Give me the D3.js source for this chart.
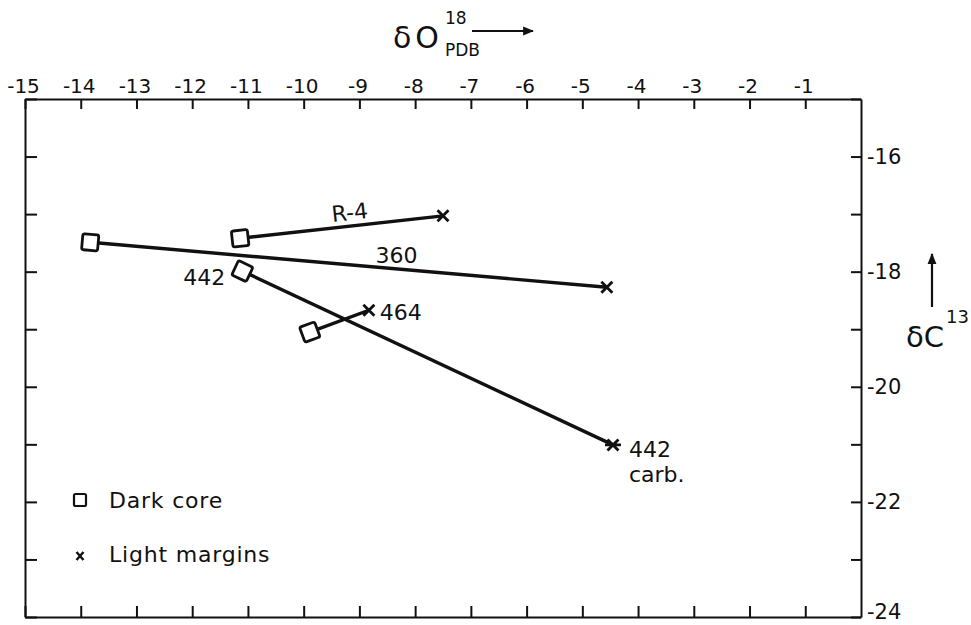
<!DOCTYPE html>
<meta charset="utf-8">
<script src="https://d3js.org/d3.v7.min.js"></script>
<style>
  body { margin: 0; background: #fff; }
  text { font-family: "DejaVu Sans", sans-serif; fill: #111; }
  .axis path, .axis line { stroke: #111; stroke-width: 2; }
</style>
<body>
<script>
// sample data: dark core vs light margin isotope values
var samples  = ["R-4", "360", "442", "464"];
var coreO    = [-11.14, -13.83, -11.10, -9.89];
var coreC    = [-17.42, -17.49, -17.99, -19.05];
var marginO  = [-7.50, -4.56, -4.45, -8.83];
var marginC  = [-17.03, -18.27, -21.01, -18.67];
var marginStar = [false, false, true, false];
var xTicks = d3.range(-15, 0);      // -15 .. -1
var yTicks = d3.range(-24, -14);    // -24 .. -15
var legendLabels = ["Dark core", "Light margins"];

var width = 971, height = 625;
var svg = d3.select("body").append("svg")
    .attr("width", width)
    .attr("height", height);

var x = d3.scaleLinear().domain([-15, 0]).range([25, 861]);
var y = d3.scaleLinear().domain([-15, -24]).range([99, 617]);

// axes (ticks point inwards)
var topAxis = svg.append("g").attr("class", "axis")
    .attr("transform", "translate(0,99)")
    .call(d3.axisTop(x).tickValues(xTicks).tickSizeInner(-10).tickSizeOuter(0)
        .tickPadding(6).tickFormat(function(d) { return String(d); }));
topAxis.selectAll("text").attr("font-size", "20px").attr("dx", "-2");

svg.append("g").attr("class", "axis")
    .attr("transform", "translate(0,617)")
    .call(d3.axisBottom(x).tickValues(xTicks).tickSizeInner(-11).tickSizeOuter(0).tickFormat(""));

svg.append("g").attr("class", "axis")
    .attr("transform", "translate(25,0)")
    .call(d3.axisLeft(y).tickValues(yTicks).tickSizeInner(-12).tickSizeOuter(0).tickFormat(""));

var rightAxis = svg.append("g").attr("class", "axis")
    .attr("transform", "translate(861,0)")
    .call(d3.axisRight(y).tickValues(yTicks).tickSizeInner(-10).tickSizeOuter(0)
        .tickPadding(6).tickFormat(function(d) { return d % 2 === 0 ? String(d) : ""; }));
rightAxis.selectAll("text").attr("font-size", "21px")
    .attr("dy", function(d) { return d === -24 ? "0.05em" : "0.32em"; });

svg.selectAll(".axis text").attr("fill", "#111").style("font-family", "DejaVu Sans");

// connecting lines
var idx = d3.range(samples.length);
svg.selectAll(".link")
    .data(idx)
    .enter().append("line")
    .attr("class", "link")
    .attr("x1", function(i) { return x(coreO[i]); })
    .attr("y1", function(i) { return y(coreC[i]); })
    .attr("x2", function(i) { return x(marginO[i]); })
    .attr("y2", function(i) { return y(marginC[i]); })
    .attr("stroke", "#111")
    .attr("stroke-width", 3.4);

function angle(i) {
    var dx = x(marginO[i]) - x(coreO[i]), dy = y(marginC[i]) - y(coreC[i]);
    return Math.atan2(dy, dx) * 180 / Math.PI;
}

// dark core squares
svg.selectAll(".core")
    .data(idx)
    .enter().append("rect")
    .attr("class", "core")
    .attr("x", -8).attr("y", -8)
    .attr("width", 16).attr("height", 16)
    .attr("rx", 2)
    .attr("fill", "#fff")
    .attr("stroke", "#111")
    .attr("stroke-width", 2.8)
    .attr("transform", function(i) {
        return "translate(" + x(coreO[i]) + "," + y(coreC[i]) + ") rotate(" + angle(i) + ")";
    });

// light margin crosses
function crossPath(star) {
    var s = 5.5;
    var p = "M" + (-s) + "," + (-s) + "L" + s + "," + s + "M" + (-s) + "," + s + "L" + s + "," + (-s);
    if (star) p += "M-8,0L8,0";
    return p;
}
svg.selectAll(".margin")
    .data(idx)
    .enter().append("path")
    .attr("class", "margin")
    .attr("d", function(i) { return crossPath(marginStar[i]); })
    .attr("fill", "none")
    .attr("stroke", "#111")
    .attr("stroke-width", 2.8)
    .attr("transform", function(i) {
        return "translate(" + x(marginO[i]) + "," + y(marginC[i]) + ")";
    });

// sample labels
var labels = [
    {i: 0, at: "mid", dx: 9, dy: -7, anchor: "middle", rot: true, lines: [samples[0]]},
    {i: 1, at: "mid", dx: 48, dy: -2, anchor: "middle", lines: [samples[1]]},
    {i: 2, at: "core", dx: -17, dy: 14, anchor: "end", lines: [samples[2]]},
    {i: 2, at: "margin", dx: 16, dy: 12, anchor: "start", lines: [samples[2], "carb."]},
    {i: 3, at: "margin", dx: 11, dy: 10, anchor: "start", lines: [samples[3]]}
];
labels.forEach(function(l) {
    var px, py;
    if (l.at === "core") { px = x(coreO[l.i]); py = y(coreC[l.i]); }
    else if (l.at === "margin") { px = x(marginO[l.i]); py = y(marginC[l.i]); }
    else {
        px = (x(coreO[l.i]) + x(marginO[l.i])) / 2;
        py = (y(coreC[l.i]) + y(marginC[l.i])) / 2;
    }
    var t = svg.append("text")
        .attr("text-anchor", l.anchor)
        .attr("font-size", "22px")
        .attr("transform", "translate(" + (px + l.dx) + "," + (py + l.dy) + ")" +
              (l.rot ? " rotate(" + angle(l.i) + ")" : ""));
    l.lines.forEach(function(s, k) {
        t.append("tspan").attr("x", 0).attr("y", k * 25).text(s);
    });
});

// legend
svg.append("rect")
    .attr("x", 74).attr("y", 494).attr("width", 12).attr("height", 12)
    .attr("rx", 1.5)
    .attr("fill", "#fff").attr("stroke", "#111").attr("stroke-width", 2.2);
svg.append("path")
    .attr("d", "M-3.5,-4L3.5,4M-3.5,4L3.5,-4")
    .attr("transform", "translate(80,556)")
    .attr("fill", "none").attr("stroke", "#111").attr("stroke-width", 2.4);
svg.selectAll(".legtext")
    .data(legendLabels)
    .enter().append("text")
    .attr("class", "legtext")
    .attr("x", 109)
    .attr("y", function(d, i) { return 508 + i * 54; })
    .attr("font-size", "22px")
    .attr("letter-spacing", "0.8px")
    .text(function(d) { return d; });

// axis titles
svg.append("text").attr("x", 393).attr("y", 48).attr("font-size", "30px")
    .attr("letter-spacing", "4px").text("δO");
svg.append("text").attr("x", 445).attr("y", 24).attr("font-size", "17px").text("18");
svg.append("text").attr("x", 445).attr("y", 56).attr("font-size", "17px").text("PDB");
svg.append("defs").append("marker")
    .attr("id", "arrow").attr("viewBox", "0 0 10 10")
    .attr("refX", 9).attr("refY", 5)
    .attr("markerWidth", 5).attr("markerHeight", 5)
    .attr("orient", "auto")
    .append("path").attr("d", "M0,1L10,5L0,9Z").attr("fill", "#111");
svg.append("line")
    .attr("x1", 472).attr("y1", 31).attr("x2", 533).attr("y2", 31)
    .attr("stroke", "#111").attr("stroke-width", 2.2)
    .attr("marker-end", "url(#arrow)");

svg.append("line")
    .attr("x1", 932).attr("y1", 307).attr("x2", 932).attr("y2", 254)
    .attr("stroke", "#111").attr("stroke-width", 2.2)
    .attr("marker-end", "url(#arrow)");
svg.append("text").attr("x", 906).attr("y", 347).attr("font-size", "29px").text("δC");
svg.append("text").attr("x", 946).attr("y", 323).attr("font-size", "18px").text("13");
</script>
</body>
